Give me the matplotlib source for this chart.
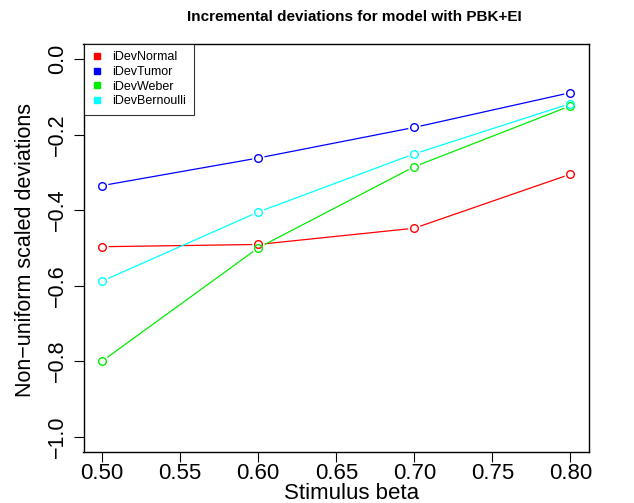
import matplotlib
matplotlib.use("Agg")
import matplotlib.pyplot as plt
from matplotlib.lines import Line2D

plt.rcParams['font.family'] = ['Liberation Sans', 'DejaVu Sans']

beta = [0.5, 0.6, 0.7, 0.8]
series_names = ["iDevNormal", "iDevTumor", "iDevWeber", "iDevBernoulli"]
iDevNormal = [-0.497, -0.491, -0.448, -0.305]
iDevTumor = [-0.335, -0.262, -0.181, -0.089]
iDevWeber = [-0.800, -0.500, -0.285, -0.124]
iDevBernoulli = [-0.588, -0.405, -0.251, -0.118]
colors = ["#ff0000", "#0000ff", "#00ee00", "#00ffff"]
xticks = [0.50, 0.55, 0.60, 0.65, 0.70, 0.75, 0.80]
yticks = [0.0, -0.2, -0.4, -0.6, -0.8, -1.0]

W, H = 634, 503
fig = plt.figure(figsize=(6.34, 5.03), dpi=100)
ax = fig.add_axes([83.5/W, 1-451.7/H, (589-83.5)/W, (451.7-44)/H])

data = [iDevNormal, iDevTumor, iDevWeber, iDevBernoulli]
for vals, c in zip(data, colors):
    ax.plot(beta, vals, color=c, lw=0.9, zorder=2)
for vals, c in zip(data, colors):
    ax.plot(beta, vals, ls='none', marker='o', ms=9, mfc='white', mec='none', zorder=3)
for vals, c in zip(data, colors):
    ax.plot(beta, vals, ls='none', marker='o', ms=5.5, mfc='none', mec=c, mew=1.0, zorder=4)

ax.set_xlim(0.488, 0.812)
ax.set_ylim(-1.04, 0.04)
ax.set_xticks(xticks)
ax.set_xticklabels([f"{v:.2f}" for v in xticks], fontsize=16)
ax.set_yticks(yticks)
ax.set_yticklabels([f"{v:.1f}".replace('-', '\u2212') for v in yticks], fontsize=15.5,
                   rotation=90, va='center')
ax.tick_params(direction='out', length=7, width=0.8)
ax.tick_params(axis='x', pad=1)
ax.tick_params(axis='y', pad=4)
for s in ax.spines.values():
    s.set_linewidth(1.0)

fig.text(352/W, 1-499/H, "Stimulus beta", ha='center', va='baseline', fontsize=16)
fig.text(26/W, 1-250/H, "Non\u2212uniform scaled deviations", ha='center', va='center',
         rotation=90, fontsize=15.5)
fig.text(354/W, 1-17/H, "Incremental deviations for model with PBK+EI",
         ha='center', va='center', fontsize=11, fontweight='bold')

handles = [Line2D([], [], ls='none', marker='s', ms=5, color=c) for c in colors]
leg = ax.legend(handles, series_names, loc='upper left', bbox_to_anchor=(0, 1),
                fontsize=9, frameon=True, fancybox=False, edgecolor='black',
                borderaxespad=0, handlelength=1.0, handletextpad=0.7,
                labelspacing=0.2, borderpad=0.6)
leg.get_frame().set_linewidth(0.8)

fig.savefig("out.png", dpi=100)
